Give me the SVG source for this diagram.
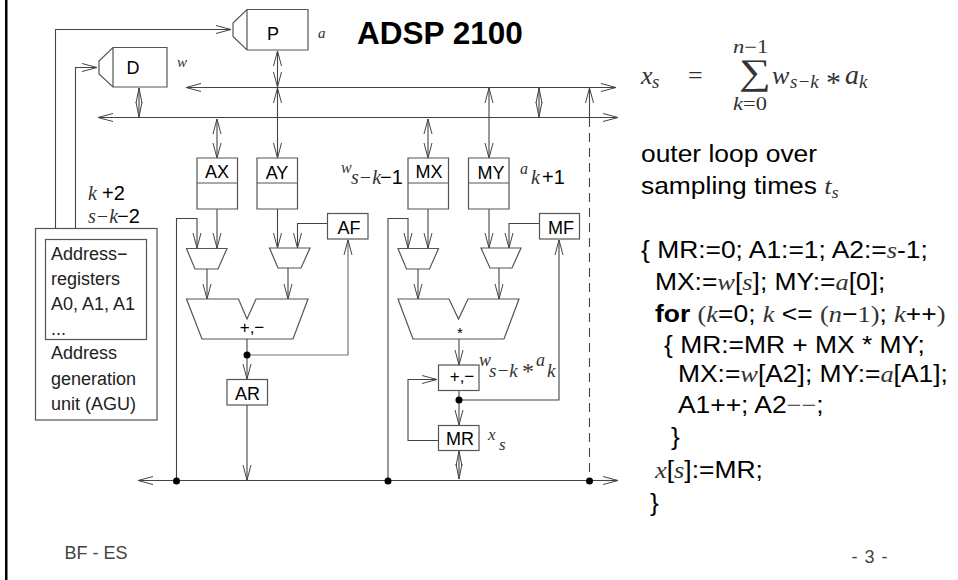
<svg xmlns="http://www.w3.org/2000/svg" width="958" height="580" viewBox="0 0 958 580">
<defs>
<marker id="h" markerUnits="userSpaceOnUse" viewBox="-16 -6 17 12" refX="0" refY="0" markerWidth="17" markerHeight="12" orient="auto"><path d="M-15,-4 L0,0 L-15,4" fill="none" stroke="#444" stroke-width="1"/></marker>
<marker id="hs" markerUnits="userSpaceOnUse" viewBox="-1 -6 17 12" refX="0" refY="0" markerWidth="17" markerHeight="12" orient="auto"><path d="M15,-4 L0,0 L15,4" fill="none" stroke="#444" stroke-width="1"/></marker>
<marker id="n" markerUnits="userSpaceOnUse" viewBox="-16 -6 17 12" refX="0" refY="0" markerWidth="17" markerHeight="12" orient="auto"><path d="M-15,-3 L0,0 L-15,3" fill="none" stroke="#444" stroke-width="1"/></marker>
<marker id="ns" markerUnits="userSpaceOnUse" viewBox="-1 -6 17 12" refX="0" refY="0" markerWidth="17" markerHeight="12" orient="auto"><path d="M15,-3 L0,0 L15,3" fill="none" stroke="#444" stroke-width="1"/></marker>
</defs>
<style>
.c{fill:none;stroke:#444;stroke-width:1.1}
.g{fill:none;stroke:#777;stroke-width:1.2}
.a{marker-end:url(#h)}
.b{marker-end:url(#h);marker-start:url(#hs)}
.e{marker-end:url(#n);marker-start:url(#ns)}
.n{fill:#fff;stroke:#555;stroke-width:1.2}
.d{fill:#000;stroke:none}
text{font-family:"Liberation Sans",Arial,sans-serif;fill:#000}
.l{font-size:18px;text-anchor:middle}
.t{font-family:"Liberation Serif","Times New Roman",serif;font-style:italic;fill:#333}
.r{font-family:"Liberation Serif","Times New Roman",serif;fill:#333}
.s{font-size:18px;fill:#222}
.m{font-size:24px}
</style>
<rect x="5" y="0" width="2.5" height="580" fill="#000"/>
<g id="connectors">
<path class="c a" d="M55.5,228V29.5H231"/>
<path class="c a" d="M75.5,228V67.5H97"/>
<path class="c a" d="M600,87.5H186"/>
<path class="c a" d="M186,87.5H616"/>
<path class="c a" d="M600,117.5H98"/>
<path class="c a" d="M98,117.5H618"/>
<path class="c b" d="M277.500,51V87"/>
<path class="c b" d="M277.500,88V158"/>
<path class="c e" d="M139,88V117"/>
<path class="c b" d="M217,119V158"/>
<path class="c b" d="M428,119V158"/>
<path class="c b" d="M489,88V158"/>
<path class="c e" d="M539,88V117"/>
<path class="c a" d="M589.500,118V88"/>
<path class="c" stroke-dasharray="9 6" d="M589.500,118V480"/>
<path class="c" d="M138,480.5H618"/>
<path class="c a" d="M600,480.5H138"/>
<path class="c a" d="M600,480.5H618"/>
<path class="c a" d="M176.500,480V218.5H197V248"/>
<path class="c a" d="M217,209V248"/>
<path class="c a" d="M277.500,209V248"/>
<path class="c a" d="M327,223.5H297.5V248"/>
<path class="c a" d="M207,269V299"/>
<path class="c a" d="M288,268V299"/>
<path class="c a" d="M247,339V379"/>
<path class="g a" d="M247,355H348V240"/>
<path class="c a" d="M247,405V480"/>
<path class="c a" d="M388,480V218.5H408V248"/>
<path class="c a" d="M428,209V248"/>
<path class="c a" d="M489,209V248"/>
<path class="c a" d="M539,223.5H509V248"/>
<path class="c a" d="M418,269V299"/>
<path class="c a" d="M499,268V299"/>
<path class="c a" d="M459,339V365"/>
<path class="c a" d="M459,390V425"/>
<path class="c a" d="M459,400H559V240"/>
<path class="c a" d="M438,440.5H408V379.5H437"/>
<path class="c e" d="M459,451V479"/>
<circle class="d" cx="247" cy="355" r="3.5"/>
<circle class="d" cx="176.500" cy="481" r="3.5"/>
<circle class="d" cx="388" cy="481" r="3.5"/>
<circle class="d" cx="589.500" cy="481" r="3.5"/>
<circle class="d" cx="459" cy="400" r="3.5"/>
</g>
<g id="P"><path class="n" d="M247,9.5H308V50H247L233,36.5V23ZM247,9.5V50"/><text class="l" x="273" y="39.500">P</text></g>
<g id="D"><path class="n" d="M113,47.5H167V87H113L99,74V61ZM113,47.5V87"/><text class="l" x="133" y="73.500">D</text></g>
<g id="AX"><path class="n" d="M197,158H237.500V209H197ZM197,183H237.500"/><text class="l" x="217" y="178">AX</text></g>
<g id="AY"><path class="n" d="M257,158H297.500V209H257ZM257,183H297.500"/><text class="l" x="277" y="179">AY</text></g>
<g id="MX"><path class="n" d="M408,158H448.500V209H408ZM408,183H448.500"/><text class="l" x="429" y="178">MX</text></g>
<g id="MY"><path class="n" d="M468.500,158H509V209H468.500ZM468.500,183H509"/><text class="l" x="491" y="179">MY</text></g>
<g id="AF"><rect class="n" x="327.500" y="213.500" width="40.500" height="25.500"/><text class="l" x="349" y="234">AF</text></g>
<g id="MF"><rect class="n" x="539.500" y="213.500" width="40" height="25.500"/><text class="l" x="561" y="234">MF</text></g>
<g id="MUX1"><path class="n" d="M186.500,248.500H227L218,269H195Z"/></g>
<g id="MUX2"><path class="n" d="M269.500,248H310L301,268H278Z"/></g>
<g id="MUX3"><path class="n" d="M398,248.500H438.500L429.500,269H406.500Z"/></g>
<g id="MUX4"><path class="n" d="M481,248H521L512,268H490Z"/></g>
<g id="ALU"><path class="n" d="M186.500,299H238.500L247,319L256,299H308L293,339H202Z"/><text x="252" y="333" text-anchor="middle" font-size="17">+,−</text></g>
<g id="MUL"><path class="n" d="M398,299H449L458.500,319L468,299H519L504,339H413Z"/><text x="460" y="338" text-anchor="middle" font-size="15">*</text></g>
<g id="AR"><rect class="n" x="227" y="379.500" width="40.500" height="25.500"/><text class="l" x="247.500" y="400">AR</text></g>
<g id="ADD"><rect class="n" x="438.500" y="365" width="40.500" height="25.500"/><text x="462" y="382" text-anchor="middle" font-size="17">+,−</text></g>
<g id="MR"><rect class="n" x="438.500" y="425.500" width="40.500" height="25"/><text class="l" x="460" y="445">MR</text></g>
<g id="AGU"><rect class="n" x="35.500" y="228.500" width="121.500" height="191.500"/><rect class="n" x="45.500" y="239.500" width="101" height="100"/>
<text class="s" x="51" y="260">Address−</text><text class="s" x="51" y="285">registers</text><text class="s" x="51" y="310">A0, A1, A1</text><text class="s" x="51" y="335">...</text><text class="s" x="51" y="359">Address</text><text class="s" x="51" y="385">generation</text><text class="s" x="51" y="410">unit (AGU)</text></g>
<g id="labels">
<text class="t" x="318" y="38" font-size="15">a</text>
<text class="t" x="177" y="67" font-size="15">w</text>
<text x="357" y="43.500" font-size="31.500" font-weight="bold">ADSP 2100</text>
<text class="t" x="88" y="200" font-size="20">k</text><text x="102" y="200" font-size="20">+2</text>
<text class="t" x="88" y="223" font-size="20">s−k</text><text x="117" y="223" font-size="20">−2</text>
<text class="t" x="341" y="173" font-size="16">w</text>
<text class="t" x="351" y="184" font-size="20">s−k</text><text x="380" y="184" font-size="20">−1</text>
<text class="t" x="520" y="174" font-size="16">a</text>
<text class="t" x="531" y="184" font-size="20">k</text><text x="542" y="184" font-size="20">+1</text>
<text class="t" x="479" y="366" font-size="18">w</text>
<text class="t" x="489" y="377" font-size="19">s−k</text>
<text class="r" x="522" y="379" font-size="24">*</text>
<text class="t" x="536" y="366" font-size="18">a</text>
<text class="t" x="547" y="377" font-size="19">k</text>
<text class="t" x="488" y="440" font-size="17">x</text>
<text class="t" x="499" y="450" font-size="17">s</text>
</g>
<g id="formula">
<text class="t" x="641" y="84" font-size="26">x</text><text class="t" x="652" y="88" font-size="19">s</text>
<text class="r" x="688" y="84" font-size="26">=</text>
<text class="r" font-size="36" transform="matrix(1.24 0 0 1 739 84)">∑</text>
<text class="t" font-size="18" transform="matrix(1.25 0 0 1 733 53)">n<tspan style="font-style:normal">−1</tspan></text>
<text class="t" font-size="18" transform="matrix(1.25 0 0 1 733 110)">k<tspan style="font-style:normal">=0</tspan></text>
<text class="t" x="772" y="84" font-size="26">w</text><text class="t" x="790" y="88" font-size="19">s−k</text>
<text class="r" x="826" y="92" font-size="30">*</text>
<text class="t" x="845" y="84" font-size="28">a</text><text class="t" x="859" y="88" font-size="19">k</text>
</g>
<g id="code">
<text class="m" transform="matrix(1.1 0 0 1 641 162)">outer loop over</text>
<text class="m" transform="matrix(1.1 0 0 1 641 194)">sampling times <tspan class="t">t</tspan><tspan class="t" font-size="16" dy="4">s</tspan></text>
<text class="m" transform="matrix(1.1 0 0 1 641 258)">{ MR:=0; A1:=1; A2:=<tspan class="t">s</tspan>-1;</text>
<text class="m" transform="matrix(1.1 0 0 1 655 290)">MX:=<tspan class="t">w</tspan>[<tspan class="t">s</tspan>]; MY:=<tspan class="t">a</tspan>[0];</text>
<text class="m" transform="matrix(1.1 0 0 1 655 322)"><tspan font-weight="bold">for</tspan> <tspan class="r">(</tspan><tspan class="t">k</tspan>=0; <tspan class="t">k</tspan> &lt;= <tspan class="r">(</tspan><tspan class="t">n</tspan>−<tspan class="r">1)</tspan>; <tspan class="t">k</tspan>++<tspan class="r">)</tspan></text>
<text class="m" transform="matrix(1.1 0 0 1 664 353)">{ MR:=MR + MX * MY;</text>
<text class="m" transform="matrix(1.1 0 0 1 678 382)">MX:=<tspan class="t">w</tspan>[A2]; MY:=<tspan class="t">a</tspan>[A1];</text>
<text class="m" transform="matrix(1.1 0 0 1 678 413)">A1++; A2<tspan class="r">−−</tspan>;</text>
<text class="m" transform="matrix(1.1 0 0 1 671 445)">}</text>
<text class="m" transform="matrix(1.1 0 0 1 655 478)"><tspan class="t">x</tspan>[<tspan class="t">s</tspan>]:=MR;</text>
<text class="m" transform="matrix(1.1 0 0 1 650 511)">}</text>
</g>
<g id="footer">
<text x="64.500" y="559" font-size="18" style="fill:#444">BF - ES</text>
<text x="851.500" y="563" font-size="18" word-spacing="2" style="fill:#444">- 3 -</text>
</g>
</svg>
